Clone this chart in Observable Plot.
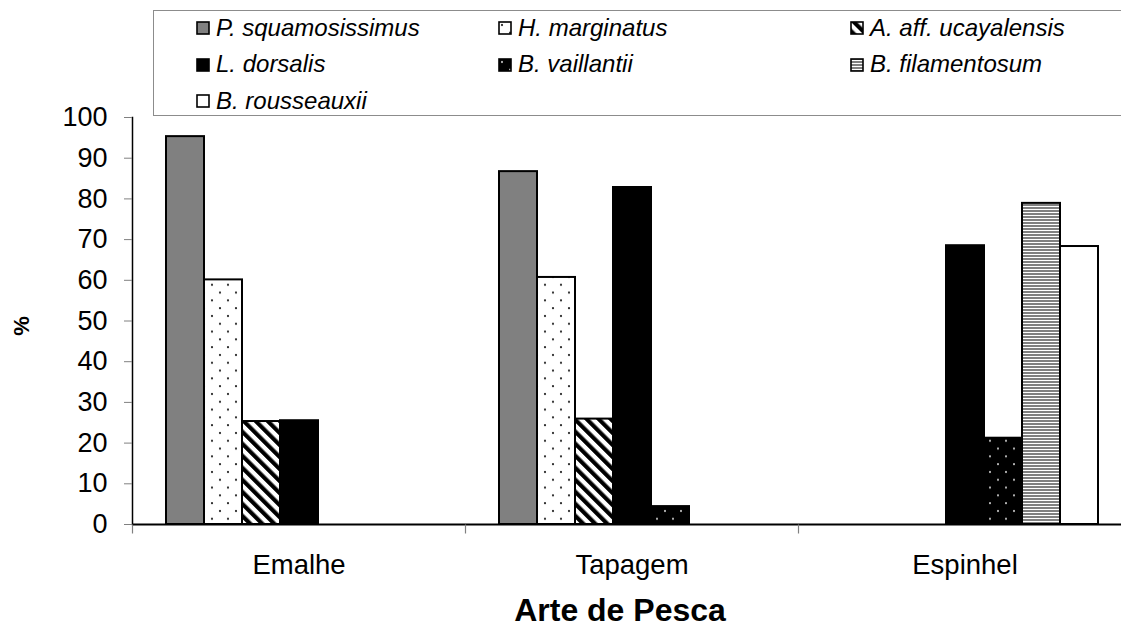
<!DOCTYPE html>
<html>
<head>
<meta charset="utf-8">
<script src="https://cdn.jsdelivr.net/npm/d3@7"></script>
<script src="https://cdn.jsdelivr.net/npm/@observablehq/plot@0.6"></script>
<style>
  html, body { margin: 0; padding: 0; background: #fff; overflow: hidden; width: 1121px; height: 627px; }
  #wrap { position: relative; width: 1121px; height: 627px; font-family: "Liberation Sans", Arial, sans-serif; color: #000; }
  #chart { position: absolute; left: 0; top: 0; }
  #legend { position: absolute; left: 153px; top: 10px; width: 1000px; height: 106px; border: 1.5px solid #8c8c8c; box-sizing: border-box; background: #fff; z-index: 2; }
  .sw { position: absolute; width: 14px; height: 14px; }
  .lt { position: absolute; font-style: italic; font-size: 24px; line-height: 24px; white-space: nowrap; }
  #ylab { position: absolute; left: 22px; top: 326px; transform: translate(-50%, -50%) rotate(-90deg); font-weight: bold; font-size: 22px; line-height: 22px; }
  #xlab { position: absolute; left: 620px; top: 597px; transform: translateX(-50%); font-weight: bold; font-size: 32px; line-height: 27px; white-space: nowrap; }
</style>
</head>
<body>
<svg width="0" height="0" style="position:absolute">
  <defs>
    <pattern id="pat-dots" patternUnits="userSpaceOnUse" width="16" height="15.6">
      <rect width="16" height="15.6" fill="#fff"/>
      <circle cx="4" cy="4" r="1.1" fill="#111"/>
      <circle cx="12" cy="11.8" r="1.1" fill="#111"/>
    </pattern>
    <pattern id="pat-hatch" patternUnits="userSpaceOnUse" width="8.5" height="8.5" patternTransform="rotate(-45)">
      <rect width="8.5" height="8.5" fill="#fff"/>
      <rect width="4.2" height="8.5" fill="#000"/>
    </pattern>
    <pattern id="pat-blackdots" patternUnits="userSpaceOnUse" width="16" height="15.6">
      <rect width="16" height="15.6" fill="#000"/>
      <circle cx="4" cy="4" r="1" fill="#ddd"/>
      <circle cx="12" cy="11.8" r="1" fill="#ddd"/>
    </pattern>
    <pattern id="pat-hstripes" patternUnits="userSpaceOnUse" width="4" height="3">
      <rect width="4" height="3" fill="#fff"/>
      <rect width="4" height="2" fill="#808080"/>
    </pattern>
  </defs>
</svg>
<div id="wrap">
  <div id="chart"></div>
  <div id="legend"></div>
  <div id="ylab">%</div>
  <div id="xlab">Arte de Pesca</div>
</div>
<script>
// ---- data ----
const groups = ["Emalhe", "Tapagem", "Espinhel"];
const species = ["P. squamosissimus", "H. marginatus", "A. aff. ucayalensis", "L. dorsalis", "B. vaillantii", "B. filamentosum", "B. rousseauxii"];
const pSquamosissimus = [95.3, 86.7, 0];
const hMarginatus = [60.1, 60.7, 0];
const aUcayalensis = [25.3, 25.9, 0];
const lDorsalis = [25.5, 82.8, 68.5];
const bVaillantii = [0, 4.4, 21.2];
const bFilamentosum = [0, 0, 78.9];
const bRousseauxii = [0, 0, 68.3];
const yTicks = [0, 10, 20, 30, 40, 50, 60, 70, 80, 90, 100];

const seriesValues = [pSquamosissimus, hMarginatus, aUcayalensis, lDorsalis, bVaillantii, bFilamentosum, bRousseauxii];
const fills = ["#808080", "url(#pat-dots)", "url(#pat-hatch)", "#000000", "url(#pat-blackdots)", "url(#pat-hstripes)", "#ffffff"];

const rows = [];
groups.forEach((g, gi) => species.forEach((s, si) => {
  const v = seriesValues[si][gi];
  if (v > 0) rows.push({group: g, species: s, value: v});
}));

// small downward tick drawn as a custom symbol (group separators)
const sepTick = { draw(ctx, size) { const r = Math.sqrt(size / Math.PI); ctx.moveTo(0, 0); ctx.lineTo(0, 2 * r); } };

const chart = Plot.plot({
  width: 1121,
  height: 627,
  marginTop: 117,
  marginBottom: 103,
  marginLeft: 132,
  marginRight: -10,
  style: { fontFamily: "'Liberation Sans', Arial, sans-serif", background: "transparent", color: "#000", overflow: "visible" },
  fx: { domain: groups, padding: 0, axis: null },
  x: { domain: species, paddingInner: 0, paddingOuter: 0.77, axis: null },
  y: { domain: [0, 100], axis: null },
  color: { domain: species, range: fills },
  marks: [
    Plot.barY(rows, { fx: "group", x: "species", y: "value", fill: "species", stroke: "#000", strokeWidth: 2 }),
    Plot.ruleY([0], { stroke: "#000", strokeWidth: 2 }),
    Plot.frame({ anchor: "left", fx: groups[0], stroke: "#000", strokeWidth: 1.5 }),
    Plot.dot(groups, { fx: d => d, frameAnchor: "bottom-left", symbol: sepTick, r: 4.5, stroke: "#808080", strokeWidth: 1.2 }),
    Plot.axisY({ ticks: yTicks, tickSize: 8, tickPadding: 17, fontSize: 27, label: null, stroke: "#808080", fill: "#000" }),
    Plot.axisFx({ anchor: "bottom", tickSize: 0, tickPadding: 30, fontSize: 27.5, label: null, fill: "#000" })
  ]
});
document.getElementById("chart").appendChild(chart);

// ---- legend ----
const legend = document.getElementById("legend");
const colX = [42, 344, 696];
const rowBase = [25, 61.5, 98];
species.forEach((s, i) => {
  const c = i % 3, r = Math.floor(i / 3);
  const sw = document.createElementNS("http://www.w3.org/2000/svg", "svg");
  sw.setAttribute("class", "sw");
  sw.setAttribute("width", 14); sw.setAttribute("height", 14);
  sw.style.left = colX[c] + "px";
  sw.style.top = (rowBase[r] - 15) + "px";
  const rect = document.createElementNS("http://www.w3.org/2000/svg", "rect");
  rect.setAttribute("x", 1); rect.setAttribute("y", 1);
  rect.setAttribute("width", 12); rect.setAttribute("height", 12);
  rect.setAttribute("fill", fills[i]);
  rect.setAttribute("stroke", "#000"); rect.setAttribute("stroke-width", 1.6);
  sw.appendChild(rect);
  legend.appendChild(sw);
  const t = document.createElement("div");
  t.className = "lt";
  t.textContent = s;
  t.style.left = (colX[c] + 20) + "px";
  t.style.top = (rowBase[r] - 20.3) + "px";
  legend.appendChild(t);
});
</script>
</body>
</html>
